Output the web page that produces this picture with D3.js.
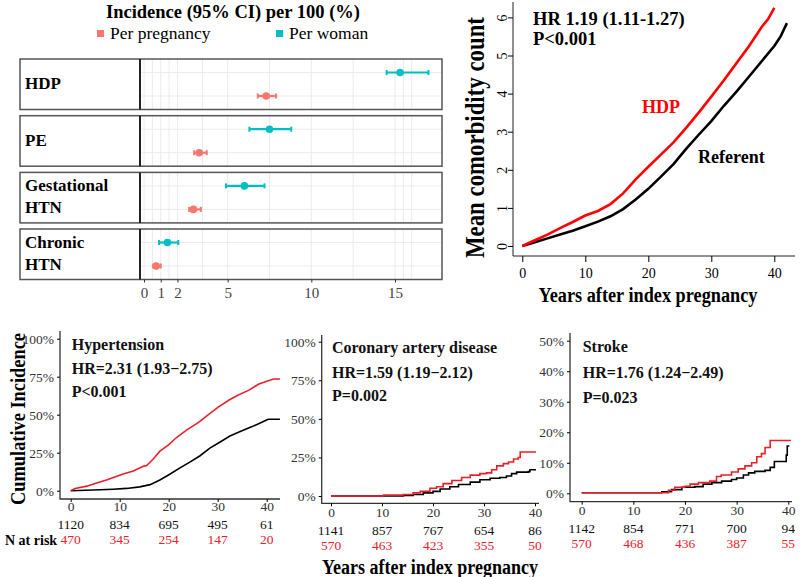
<!DOCTYPE html>
<html>
<head>
<meta charset="utf-8">
<script src="https://cdn.jsdelivr.net/npm/d3@7"></script>
<style>
  body { margin: 0; background: #fff; }
  svg { display: block; font-family: "Liberation Serif", "Times New Roman", serif; }
</style>
</head>
<body>
<svg id="chart" width="800" height="577"></svg>
<script>
// ---- forest plot data (incidence per 100) ----
const conditions = [["HDP"], ["PE"], ["Gestational", "HTN"], ["Chronic", "HTN"]];
const womanEst = [15.3, 7.5, 6.0, 1.4];
const womanLo = [14.5, 6.3, 4.9, 0.9];
const womanHi = [17.0, 8.8, 7.2, 2.05];
const pregEst = [7.3, 3.3, 2.95, 0.73];
const pregLo = [6.8, 3.0, 2.7, 0.55];
const pregHi = [7.9, 3.75, 3.4, 1.0];
const forestTicks = [0, 1, 2, 5, 10, 15];
const forestMinor = [0.5, 1.5, 3.5, 7.5, 12.5, 15.5, 16];

// ---- mean comorbidity count ----
const hdpYears = [0, 2, 4, 6, 8, 10, 12, 14, 16, 18, 20, 22, 24, 26, 28, 30, 32, 34, 36, 38, 39, 40];
const hdpMean = [0, 0.15, 0.3, 0.47, 0.63, 0.8, 0.92, 1.1, 1.38, 1.75, 2.08, 2.4, 2.72, 3.1, 3.5, 3.92, 4.35, 4.8, 5.25, 5.75, 5.95, 6.25];
const refYears = [0, 2, 4, 6, 8, 10, 12, 14, 16, 18, 20, 22, 24, 26, 28, 30, 32, 34, 36, 38, 40, 41, 42];
const refMean = [0, 0.1, 0.2, 0.3, 0.4, 0.52, 0.64, 0.78, 0.97, 1.22, 1.5, 1.82, 2.15, 2.55, 2.92, 3.28, 3.68, 4.05, 4.45, 4.85, 5.25, 5.5, 5.85];

// ---- cumulative incidence (%) ----
const htnHdpT = [0, 0.9, 3.3, 5.3, 7.3, 9, 10.7, 12.8, 14.8, 15.5, 16.9, 18.2, 19.9, 21.6, 23.7, 26.1, 28.1, 30.1, 32.5, 34.2, 36.3, 38.3, 40, 41.4, 42.7];
const htnHdpV = [0, 1.5, 3, 5, 7, 9, 11, 13, 16, 16.5, 21, 26, 30, 35, 40, 45, 50, 55, 60, 63, 66, 70, 72, 73.5, 73.5];
const htnRefT = [0, 4.6, 8.7, 11.4, 14.1, 16.2, 18.2, 20.3, 22.3, 24.4, 26.4, 28.4, 30.5, 32.5, 34.6, 36.9, 39, 40.3, 42.7];
const htnRefV = [0, 0.5, 1, 1.5, 2.5, 4, 7, 11, 15, 19, 23, 28, 32, 36, 39, 42, 45, 47, 47];

const cadHdpT = [0, 7.6, 10.3, 14.2, 16.1, 17.5, 19.4, 20.7, 22, 23.7, 25.6, 27.3, 29.2, 30.5, 31.5, 32.5, 33.8, 34.8, 35.8, 36.7, 37.1, 40.2];
const cadHdpV = [0, 0, 0.6, 1, 2, 3, 5, 6, 8, 10, 12, 13.5, 14.5, 15, 17, 19.5, 21, 22, 24, 25, 28.5, 28.5];
const cadRefT = [0, 9.5, 14.2, 16.1, 18.1, 20, 21.4, 23.3, 25, 27.3, 29.2, 31.2, 33.1, 34.4, 35.4, 36.4, 38.7, 39, 40.2];
const cadRefV = [0, 0, 0.3, 1, 2, 3, 4.5, 6, 7.5, 9, 10.5, 11.5, 12, 13, 14.5, 15.5, 15.8, 17, 17];

const strHdpT = [0, 13.5, 16.8, 18, 20, 21, 22.6, 24.8, 26.1, 27, 29, 30.3, 31.6, 32.9, 33.9, 34.8, 35.5, 36.5, 40.5];
const strHdpV = [0.2, 0.2, 1, 2, 2.3, 3, 3.5, 4, 5.5, 6, 7, 8, 9, 10, 12, 13, 15, 17.3, 17.3];
const strRefT = [0, 13.5, 15.5, 17.4, 19.4, 21.9, 23.5, 25.2, 27.1, 29, 30, 31.3, 32.3, 33.5, 35.5, 36.5, 37.3, 39.4, 39.6, 39.8, 40.2];
const strRefV = [0.2, 0.2, 0.5, 1.2, 2, 2.2, 3, 3.5, 4, 4.5, 5, 6, 6.7, 7.2, 7.5, 8.5, 10.4, 10.4, 12.5, 15.5, 15.5];

const riskTimes = [0, 10, 20, 30, 40];
const htnRiskRef = [1120, 834, 695, 495, 61];
const htnRiskHdp = [470, 345, 254, 147, 20];
const cadRiskRef = [1141, 857, 767, 654, 86];
const cadRiskHdp = [570, 463, 423, 355, 50];
const strRiskRef = [1142, 854, 771, 700, 94];
const strRiskHdp = [570, 468, 436, 387, 55];

const pinkRed = "#F8766D", teal = "#00BFC4", kmRed = "#E8202A";
const svg = d3.select("#chart");

// squeeze a bold title to the width it has in the figure
function fitText(sel, tx, ty, rot, target) {
  sel.attr("text-anchor", "middle").each(function () {
    const w = this.getComputedTextLength();
    const s = Math.min(1, target / w);
    d3.select(this).attr("transform", `translate(${tx},${ty}) rotate(${rot}) scale(${s},1)`);
  });
}

// ================= forest plot =================
{
  const fx = d3.scaleLinear().domain([0, 15]).range([144, 395]);
  const left = 20, divider = 140, right = 442;
  const panelTop = [59, 115.7, 172.4, 229], panelH = 50.5;
  const g = svg.append("g");

  g.append("text").attr("x", 233).attr("y", 18).attr("text-anchor", "middle")
    .attr("font-weight", "bold").attr("font-size", 18.5)
    .text("Incidence (95% CI) per 100 (%)");
  const legend = [{ label: "Per pregnancy", col: pinkRed, x: 97 }, { label: "Per woman", col: teal, x: 276 }];
  legend.forEach(l => {
    g.append("rect").attr("x", l.x).attr("y", 30).attr("width", 7).attr("height", 7).attr("fill", l.col);
    g.append("text").attr("x", l.x + 13).attr("y", 39).attr("font-size", 17.5).text(l.label);
  });

  conditions.forEach((lab, i) => {
    const top = panelTop[i];
    const yW = top + 13.5, yP = top + 37;
    // grid
    forestMinor.concat(forestTicks).forEach(v => {
      g.append("line").attr("x1", fx(v)).attr("x2", fx(v)).attr("y1", top).attr("y2", top + panelH)
        .attr("stroke", "#ebebeb").attr("stroke-width", 1);
    });
    [yW, yP].forEach(yy => g.append("line").attr("x1", divider).attr("x2", right)
      .attr("y1", yy).attr("y2", yy).attr("stroke", "#ebebeb"));
    // border
    g.append("rect").attr("x", left).attr("y", top).attr("width", right - left).attr("height", panelH)
      .attr("fill", "none").attr("stroke", "#555").attr("stroke-width", 1.5);
    g.append("line").attr("x1", divider).attr("x2", divider).attr("y1", top).attr("y2", top + panelH)
      .attr("stroke", "#222").attr("stroke-width", 2);
    // label
    const t = g.append("text").attr("font-weight", "bold").attr("font-size", 17);
    if (lab.length === 1) {
      t.append("tspan").attr("x", 25).attr("y", top + 30).text(lab[0]);
    } else {
      t.append("tspan").attr("x", 25).attr("y", top + 19).text(lab[0]);
      t.append("tspan").attr("x", 25).attr("y", top + 41).text(lab[1]);
    }
    // estimates
    const rows = [
      { y: yW, est: womanEst[i], lo: womanLo[i], hi: womanHi[i], col: teal },
      { y: yP, est: pregEst[i], lo: pregLo[i], hi: pregHi[i], col: pinkRed }
    ];
    rows.forEach(r => {
      g.append("line").attr("x1", fx(r.lo)).attr("x2", fx(r.hi)).attr("y1", r.y).attr("y2", r.y)
        .attr("stroke", r.col).attr("stroke-width", 2.2);
      [r.lo, r.hi].forEach(v => g.append("line").attr("x1", fx(v)).attr("x2", fx(v))
        .attr("y1", r.y - 2.5).attr("y2", r.y + 2.5).attr("stroke", r.col).attr("stroke-width", 2));
      g.append("circle").attr("cx", fx(r.est)).attr("cy", r.y).attr("r", 3.8).attr("fill", r.col);
    });
  });

  const ax = g.append("g").attr("transform", "translate(0,279.5)")
    .call(d3.axisBottom(fx).tickValues(forestTicks).tickSize(3).tickFormat(d3.format("d")));
  ax.select(".domain").remove();
  ax.selectAll(".tick line").attr("stroke", "#333");
  ax.selectAll("text").attr("font-family", "Liberation Serif").attr("font-size", 15)
    .attr("fill", "#444").attr("dy", "0.85em");
}

// ================= mean comorbidity count =================
{
  const x = d3.scaleLinear().domain([0, 40]).range([522.3, 774.3]);
  const y = d3.scaleLinear().domain([0, 6]).range([246, 17.4]);
  const g = svg.append("g");
  const x0 = 513, x1 = 795, yb = 256, yt = 2;
  g.append("path").attr("d", `M${x0},${yt}V${yb}H${x1}`).attr("fill", "none").attr("stroke", "#222").attr("stroke-width", 1);

  const ya = g.append("g").attr("transform", `translate(${x0},0)`)
    .call(d3.axisLeft(y).ticks(6).tickSize(5).tickFormat(d3.format("d")));
  ya.select(".domain").remove();
  ya.selectAll("text").attr("font-family", "Liberation Serif").attr("font-size", 14)
    .attr("x", null).attr("text-anchor", "middle").attr("dy", "0.35em")
    .attr("transform", "translate(-11,0) rotate(-90)");
  const xa = g.append("g").attr("transform", `translate(0,${yb})`)
    .call(d3.axisBottom(x).tickValues([0, 10, 20, 30, 40]).tickSize(6));
  xa.select(".domain").remove();
  xa.selectAll("text").attr("font-family", "Liberation Serif").attr("font-size", 14).attr("dy", "0.95em");

  const line = d3.line().x(d => x(d[0])).y(d => y(d[1]));
  g.append("path").datum(refYears.map((t, i) => [t, refMean[i]])).attr("d", line)
    .attr("fill", "none").attr("stroke", "#000").attr("stroke-width", 2.6);
  g.append("path").datum(hdpYears.map((t, i) => [t, hdpMean[i]])).attr("d", line)
    .attr("fill", "none").attr("stroke", "#FF0000").attr("stroke-width", 2.6);

  g.append("text").attr("x", 533).attr("y", 25).attr("font-weight", "bold").attr("font-size", 18.5).text("HR 1.19 (1.11-1.27)");
  g.append("text").attr("x", 533).attr("y", 45).attr("font-weight", "bold").attr("font-size", 18.5).text("P<0.001");
  g.append("text").attr("x", 642).attr("y", 113).attr("font-weight", "bold").attr("font-size", 18).attr("fill", "#FF0000").text("HDP");
  g.append("text").attr("x", 698).attr("y", 163).attr("font-weight", "bold").attr("font-size", 18).text("Referent");

  fitText(g.append("text").attr("font-weight", "bold").attr("font-size", 27).text("Mean comorbidity count"),
    484, 137.5, -90, 241);
  fitText(g.append("text").attr("font-weight", "bold").attr("font-size", 22).text("Years after index pregnancy"),
    648, 302, 0, 219);
}

// ================= cumulative incidence panels =================
function kmPanel(o) {
  const x = d3.scaleLinear().domain([0, 40]).range(o.xr);
  const y = d3.scaleLinear().domain([0, o.ymax]).range(o.yr);
  const g = svg.append("g");
  g.append("path").attr("d", `M${o.axX},${o.topY}V${o.axY}H${o.endX}`).attr("fill", "none")
    .attr("stroke", "#333").attr("stroke-width", 1.3);
  const ya = g.append("g").attr("transform", `translate(${o.axX},0)`)
    .call(d3.axisLeft(y).tickValues(o.yticks).tickSize(3).tickFormat(d => d + "%"));
  ya.select(".domain").remove();
  ya.selectAll("text").attr("font-family", "Liberation Serif").attr("font-size", 13.5).attr("fill", "#333");
  const xa = g.append("g").attr("transform", `translate(0,${o.axY})`)
    .call(d3.axisBottom(x).tickValues(riskTimes).tickSize(3));
  xa.select(".domain").remove();
  xa.selectAll("text").attr("font-family", "Liberation Serif").attr("font-size", 13.5).attr("fill", "#333")
    .attr("y", o.tickY).attr("dy", 0);

  const line = d3.line().curve(o.curve).x(d => x(d[0])).y(d => y(d[1]));
  g.append("path").datum(o.refT.map((t, i) => [t, o.refV[i]])).attr("d", line)
    .attr("fill", "none").attr("stroke", "#000").attr("stroke-width", 1.6);
  g.append("path").datum(o.hdpT.map((t, i) => [t, o.hdpV[i]])).attr("d", line)
    .attr("fill", "none").attr("stroke", kmRed).attr("stroke-width", 1.6);

  o.notes.forEach((n, i) => g.append("text").attr("x", x(0) + 1).attr("y", o.noteY[i])
    .attr("font-weight", "bold").attr("font-size", 16).attr("fill", "#111").text(n));

  riskTimes.forEach((t, i) => {
    g.append("text").attr("x", x(t)).attr("y", o.riskY[0]).attr("text-anchor", "middle")
      .attr("font-size", 13.5).attr("fill", "#111").text(o.riskRef[i]);
    g.append("text").attr("x", x(t)).attr("y", o.riskY[1]).attr("text-anchor", "middle")
      .attr("font-size", 13.5).attr("fill", kmRed).text(o.riskHdp[i]);
  });
}

kmPanel({
  xr: [70.7, 266.7], yr: [490.7, 338.7], ymax: 100, yticks: [0, 25, 50, 75, 100],
  axX: 60, axY: 499, topY: 331, endX: 280, curve: d3.curveLinear, tickY: 11.5,
  hdpT: htnHdpT, hdpV: htnHdpV, refT: htnRefT, refV: htnRefV,
  notes: ["Hypertension", "HR=2.31 (1.93\u22122.75)", "P<0.001"], noteY: [350, 374, 397],
  riskRef: htnRiskRef, riskHdp: htnRiskHdp, riskY: [528.5, 544]
});
kmPanel({
  xr: [331, 535], yr: [496, 341.7], ymax: 100, yticks: [0, 25, 50, 75, 100],
  axX: 321.7, axY: 503.3, topY: 335, endX: 539, curve: d3.curveStepAfter, tickY: 13.5,
  hdpT: cadHdpT, hdpV: cadHdpV, refT: cadRefT, refV: cadRefV,
  notes: ["Coronary artery disease", "HR=1.59 (1.19\u22122.12)", "P=0.002"], noteY: [352.5, 378, 400.5],
  riskRef: cadRiskRef, riskHdp: cadRiskHdp, riskY: [535, 550]
});
kmPanel({
  xr: [581.7, 788.3], yr: [493.3, 340.7], ymax: 50, yticks: [0, 10, 20, 30, 40, 50],
  axX: 570, axY: 501.7, topY: 333, endX: 792, curve: d3.curveStepAfter, tickY: 13.3,
  hdpT: strHdpT, hdpV: strHdpV, refT: strRefT, refV: strRefV,
  notes: ["Stroke", "HR=1.76 (1.24\u22122.49)", "P=0.023"], noteY: [352, 378, 402.5],
  riskRef: strRiskRef, riskHdp: strRiskHdp, riskY: [533, 548]
});

fitText(svg.append("text").attr("font-weight", "bold").attr("font-size", 21).text("Cumulative Incidence"),
  25, 419, -90, 172);
svg.append("text").attr("x", 5).attr("y", 545).attr("font-weight", "bold").attr("font-size", 14).text("N at risk");
fitText(svg.append("text").attr("font-weight", "bold").attr("font-size", 22).text("Years after index pregnancy"),
  430, 574, 0, 216);
</script>
</body>
</html>
